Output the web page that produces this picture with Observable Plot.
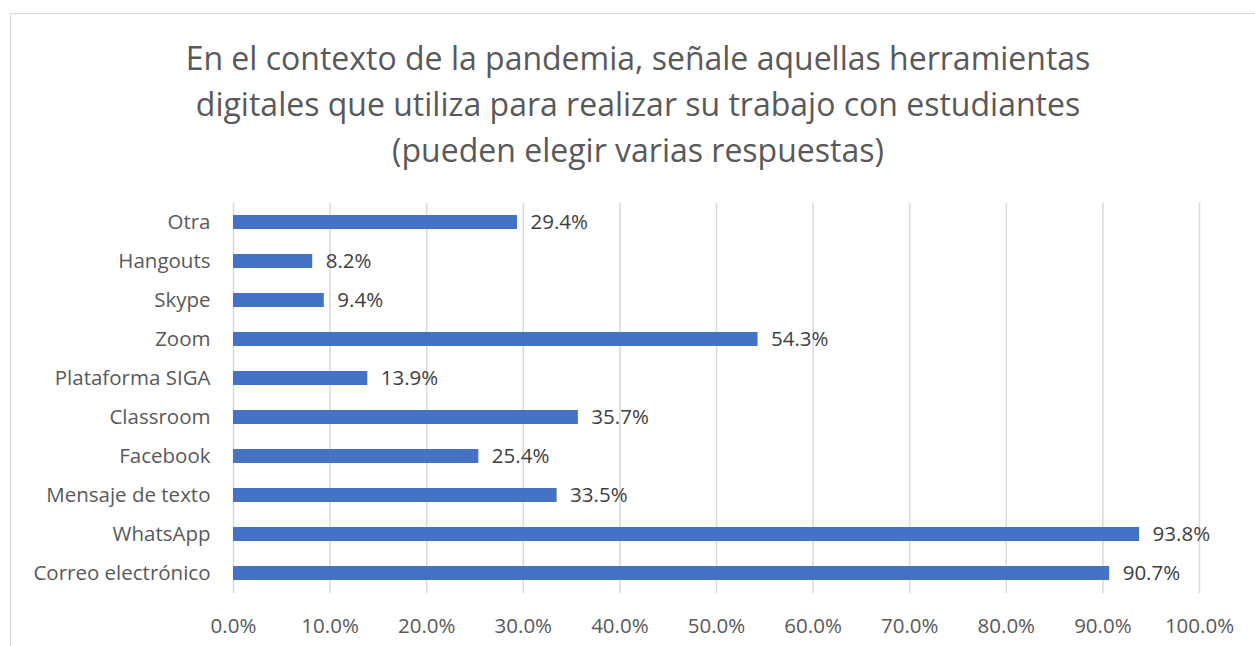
<!DOCTYPE html>
<html>
<head>
<meta charset="utf-8">
<script src="https://cdn.jsdelivr.net/npm/d3@7"></script>
<script src="https://cdn.jsdelivr.net/npm/@observablehq/plot@0.6"></script>
<style>
  html, body { margin: 0; padding: 0; background: #fff; }
  #wrap { position: relative; width: 1255px; height: 646px; overflow: hidden; background: #fff; }
  #frame { position: absolute; left: 10px; top: 13px; width: 1300px; height: 700px; border: 1.5px solid #d9d9d9; box-sizing: border-box; }
  #title { position: absolute; left: 0; top: 35px; width: 1276px; text-align: center; font-family: "Open Sans", sans-serif; font-weight: 400; font-size: 32px; line-height: 46px; color: #595959; }
  #chart { position: absolute; left: 0; top: 0; }
</style>
</head>
<body>
<div id="wrap">
  <div id="frame"></div>
  <div id="title">En el contexto de la pandemia, señale aquellas herramientas<br>digitales que utiliza para realizar su trabajo con estudiantes<br>(pueden elegir varias respuestas)</div>
  <div id="chart"></div>
</div>
<script>
const categories = ["Otra", "Hangouts", "Skype", "Zoom", "Plataforma SIGA", "Classroom", "Facebook", "Mensaje de texto", "WhatsApp", "Correo electrónico"];
const values = [29.4, 8.2, 9.4, 54.3, 13.9, 35.7, 25.4, 33.5, 93.8, 90.7];
const xTicks = [0, 10, 20, 30, 40, 50, 60, 70, 80, 90, 100];

const data = categories.map((c, i) => ({ name: c, value: values[i] }));
const fmt = v => v.toFixed(1) + "%";

const chart = Plot.plot({
  width: 1255,
  height: 646,
  marginLeft: 233,
  marginRight: 56,
  marginTop: 203,
  marginBottom: 53,
  style: { fontFamily: "Open Sans, sans-serif", fontSize: "20.5px", color: "#595959", background: "transparent" },
  x: { domain: [0, 100], ticks: xTicks, tickFormat: fmt, label: null },
  y: { domain: categories, paddingInner: 0.63, paddingOuter: 0.315, label: null },
  marks: [
    Plot.gridX(xTicks, { stroke: "#d9d9d9", strokeOpacity: 1, strokeWidth: 1.5 }),
    Plot.barX(data, { x: "value", y: "name", fill: "#4472C4" }),
    Plot.text(data, { x: "value", y: "name", text: d => fmt(d.value), textAnchor: "start", dx: 13, fill: "#404040", fontSize: 20.5 }),
    Plot.axisX({ ticks: xTicks, tickFormat: fmt, tickSize: 0, tickPadding: 25, fontSize: 20.5, fill: "#595959", label: null }),
    Plot.axisY({ tickSize: 0, tickPadding: 23, fontSize: 20.5, fill: "#595959", label: null })
  ]
});
document.getElementById("chart").appendChild(chart);
</script>
</body>
</html>
